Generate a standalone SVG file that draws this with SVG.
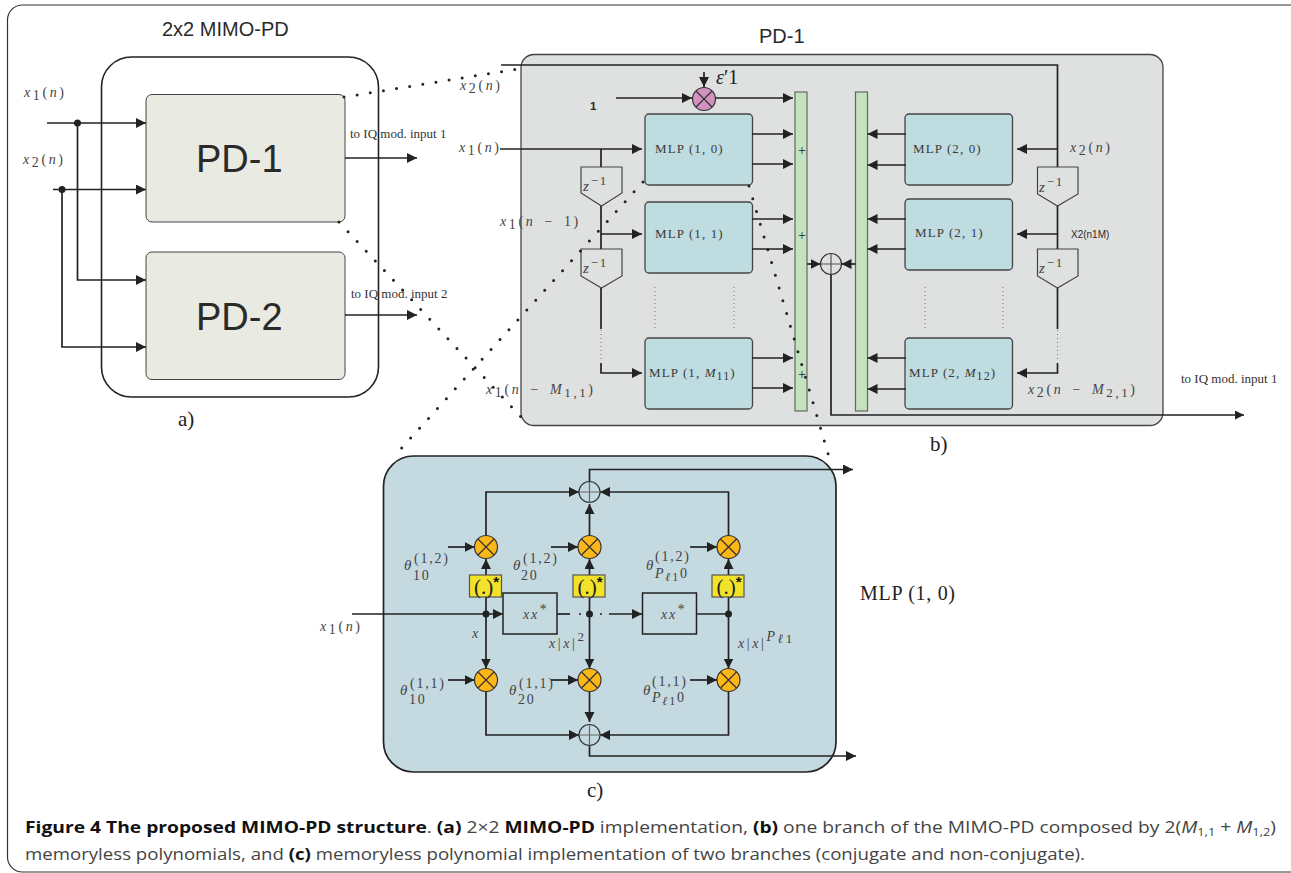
<svg xmlns="http://www.w3.org/2000/svg" width="1291" height="873" viewBox="0 0 1291 873">
<style>
text{fill:#222;font-family:"Liberation Serif",serif}
.s{font-family:"Liberation Sans",sans-serif;fill:#2a2a2a}
.m{fill:#444;font-size:14px;letter-spacing:2.600px;word-spacing:3px}
.th{letter-spacing:1.800px}
.i{font-style:italic}
.lb{fill:#3a3a3a;font-size:13px;letter-spacing:1.100px}
.t{font-size:13px;fill:#333}
.cap{font-family:"Open Sans",sans-serif;font-size:16.500px;fill:#444}
.b{font-weight:700;fill:#111}
.pd{fill:#e9eae2;stroke:#444;stroke-width:1}
.mlp{fill:#bfdce1;stroke:#444;stroke-width:1.300}
.bar{fill:#c3e2bd;stroke:#666;stroke-width:1.200}
.z{fill:#dfe0e0;stroke:#444;stroke-width:1.200}
.o{fill:#fbb718;stroke:#333;stroke-width:1.200}
.y{fill:#f2e32a;stroke:#555;stroke-width:1.200}
.x{stroke:#333;stroke-width:1.200;fill:none}
.c{fill:none;stroke:#222;stroke-width:1.700}
.a{marker-end:url(#h)}
.as{marker-end:url(#k)}
.dot{fill:#222}
.d{fill:none;stroke:#222;stroke-width:3;stroke-linecap:round;stroke-dasharray:0 13.300}
.v{fill:none;stroke:#777;stroke-width:1;stroke-dasharray:1 3}
</style>
<defs>
<marker id="h" markerUnits="userSpaceOnUse" markerWidth="11" markerHeight="12" refX="10" refY="5" orient="auto"><path d="M0 0L10 5L0 10Z" fill="#222"/></marker>
<marker id="k" markerUnits="userSpaceOnUse" markerWidth="11" markerHeight="12" refX="9" refY="4.500" orient="auto"><path d="M0 0L9 4.500L0 9Z" fill="#222"/></marker>
<g id="cross"><path d="M-8 -8L8 8M-8 8L8 -8" class="x"/></g>
</defs>
<rect id="frame" x="7.500" y="5" width="1300" height="867" rx="15" fill="#fff" stroke="#333" stroke-width="1.200"/>

<g id="panel-a">
<rect x="101.500" y="57" width="277" height="340" rx="30" fill="#fff" stroke="#222" stroke-width="1.600"/>
<text class="s" x="162" y="36" font-size="20">2x2 MIMO-PD</text>
<text x="178" y="426" font-size="21">a)</text>
</g>
<g id="pd1"><rect class="pd" x="146" y="94.500" width="199" height="127.500" rx="6"/><text class="s" x="196" y="172" font-size="38">PD-1</text></g>
<g id="pd2"><rect class="pd" x="146" y="252" width="199" height="127.500" rx="6"/><text class="s" x="196" y="330" font-size="38">PD-2</text></g>

<g id="panel-b">
<rect x="521" y="54.500" width="642" height="371" rx="13" fill="#dfe0e0" stroke="#444" stroke-width="1.300"/>
<text class="s" x="759" y="43" font-size="20">PD-1</text>
<text x="930" y="451" font-size="21">b)</text>
</g>
<g id="bar1"><rect class="bar" x="795" y="92" width="12" height="319"/><text x="798" y="155" font-size="14">+</text><text x="798" y="240" font-size="14">+</text><text x="798" y="379" font-size="14">+</text></g>
<g id="bar2"><rect class="bar" x="855.500" y="92" width="12" height="319"/></g>
<g id="mul-eps"><circle cx="704" cy="99" r="11.500" fill="#d391bf" stroke="#333" stroke-width="1.200"/><use href="#cross" x="704" y="99"/></g>
<g id="sum-b"><circle cx="831" cy="264" r="10.500" fill="none" stroke="#333" stroke-width="1.200"/><path d="M820.500 264H841.500M831 253.500V274.500" stroke="#555" stroke-width="1.200"/></g>

<g id="mlp10"><rect class="mlp" x="645" y="114" width="107.500" height="71" rx="4"/><text class="lb" x="655" y="153">MLP (1, 0)</text></g>
<g id="mlp11"><rect class="mlp" x="645" y="202" width="107.500" height="71" rx="4"/><text class="lb" x="655" y="238">MLP (1, 1)</text></g>
<g id="mlp1m"><rect class="mlp" x="645" y="338" width="107.500" height="71" rx="4"/><text class="lb" x="649" y="377">MLP (1, <tspan class="i">M</tspan><tspan font-size="12" dy="3">11</tspan><tspan dy="-3">)</tspan></text></g>
<g id="mlp20"><rect class="mlp" x="905" y="114" width="107.500" height="71" rx="4"/><text class="lb" x="913" y="153">MLP (2, 0)</text></g>
<g id="mlp21"><rect class="mlp" x="905" y="199" width="107.500" height="71" rx="4"/><text class="lb" x="915" y="237">MLP (2, 1)</text></g>
<g id="mlp2m"><rect class="mlp" x="905" y="338" width="107.500" height="71" rx="4"/><text class="lb" x="909" y="377">MLP (2, <tspan class="i">M</tspan><tspan font-size="12" dy="3">12</tspan><tspan dy="-3">)</tspan></text></g>

<g id="z1"><path class="z" d="M581 167H622V193L601.500 206L581 193Z"/><text class="m th" x="583" y="191"><tspan class="i" font-size="15">z</tspan><tspan font-size="13" dy="-6">−1</tspan></text></g>
<g id="z2"><path class="z" d="M581 249H622V276L601.500 288L581 276Z"/><text class="m th" x="583" y="273"><tspan class="i" font-size="15">z</tspan><tspan font-size="13" dy="-6">−1</tspan></text></g>
<g id="z3"><path class="z" d="M1037.500 167H1078V194L1057.500 206L1037.500 194Z"/><text class="m th" x="1039" y="192"><tspan class="i" font-size="15">z</tspan><tspan font-size="13" dy="-6">−1</tspan></text></g>
<g id="z4"><path class="z" d="M1037.500 249H1078V276L1057.500 288L1037.500 276Z"/><text class="m th" x="1039" y="273"><tspan class="i" font-size="15">z</tspan><tspan font-size="13" dy="-6">−1</tspan></text></g>

<g id="panel-c">
<rect x="383.500" y="456" width="452.500" height="316" rx="30" fill="#c5d9e0" stroke="#222" stroke-width="1.700"/>
<text x="587" y="797" font-size="21">c)</text>
<text x="860" y="600" font-size="20" letter-spacing=".7" fill="#333">MLP (1, 0)</text>
</g>

<g id="connectors">
<path class="c a" d="M47 123H146"/><path class="c a" d="M77.500 123V280H146"/>
<path class="c a" d="M53 189.500H146"/><path class="c a" d="M62 189.500V347H146"/>
<path class="c a" d="M345 158H417"/><path class="c a" d="M345 315H417"/>
<path class="c a" d="M616 98H692"/><path class="c a" d="M716 98H793"/><path class="c a" d="M704 72V87"/>
<path class="c a" d="M500 149H642"/><path class="c" d="M601 149V167M601 206V249M601 288V329"/><path class="c a" d="M601 234H642"/><path class="c a" d="M601 363V373H642"/><path class="v" d="M601 330V362"/>
<path class="c a" d="M752 134H793"/><path class="c a" d="M752 164H793"/><path class="c a" d="M752 219H793"/><path class="c a" d="M752 249H793"/><path class="c a" d="M752 358H793"/><path class="c a" d="M752 388H793"/>
<path class="c a" d="M906 134H867.500"/><path class="c a" d="M906 165H867.500"/><path class="c a" d="M906 219H867.500"/><path class="c a" d="M906 249H867.500"/><path class="c a" d="M906 358H867.500"/><path class="c a" d="M906 389H867.500"/>
<path class="c" d="M501 65H1057.500V167M1057.500 206V249M1057.500 288V329"/>
<path class="c a" d="M1057.500 149H1017"/><path class="c a" d="M1057.500 234H1017"/><path class="c a" d="M1057.500 363V373H1017"/><path class="v" d="M1057.500 330V362"/>
<path class="v" d="M655 287V328M734 287V328M925 287V328M1003 287V328"/>
<path class="c a" d="M807 264H820.500"/><path class="c a" d="M855.500 264H841.500"/>
<path class="c as" d="M831 274.500V415H1244"/>

<path class="c a" d="M352 614H503"/><path class="c" d="M557 614H570"/><path class="c a" d="M609 614H642"/><path class="c" d="M696.500 614H728.500"/>
<path class="c a" d="M486 575V559"/><path class="c a" d="M589.500 575V559"/><path class="c a" d="M728.500 575V559"/>
<path class="c" d="M486 614V597M589.500 614V597M728.500 614V597"/>
<path class="c a" d="M486 614V668.500"/><path class="c a" d="M589.500 614V668.500"/><path class="c a" d="M728.500 614V668.500"/>
<path class="c a" d="M448 547H474.500"/><path class="c a" d="M551 547H578"/><path class="c a" d="M690 547H717"/>
<path class="c a" d="M448 680H474.500"/><path class="c a" d="M551 680H578"/><path class="c a" d="M690 680H717"/>
<path class="c a" d="M486 535.500V492H579"/><path class="c a" d="M589.500 535.500V504"/><path class="c a" d="M728.500 535.500V492H600"/>
<path class="c a" d="M486 691.500V735H579"/><path class="c a" d="M589.500 691.500V722"/><path class="c a" d="M728.500 691.500V735H600"/>
<path class="c a" d="M589.500 482V469.500H853"/><path class="c a" d="M589.500 745V756H856"/>
<circle class="dot" cx="77.500" cy="123" r="3.500"/><circle class="dot" cx="62" cy="189.500" r="3.500"/>
<circle class="dot" cx="486" cy="614" r="3.500"/><circle class="dot" cx="589.500" cy="614" r="3.500"/><circle class="dot" cx="728.500" cy="614" r="3.500"/>
<circle class="dot" cx="580" cy="614" r="1"/><circle class="dot" cx="601" cy="614" r="1"/>
</g>

<g id="m1"><circle class="o" cx="486" cy="547" r="11.500"/><use href="#cross" x="486" y="547"/></g>
<g id="m2"><circle class="o" cx="589.500" cy="547" r="11.500"/><use href="#cross" x="589.500" y="547"/></g>
<g id="m3"><circle class="o" cx="728.500" cy="547" r="11.500"/><use href="#cross" x="728.500" y="547"/></g>
<g id="m4"><circle class="o" cx="486" cy="680" r="11.500"/><use href="#cross" x="486" y="680"/></g>
<g id="m5"><circle class="o" cx="589.500" cy="680" r="11.500"/><use href="#cross" x="589.500" y="680"/></g>
<g id="m6"><circle class="o" cx="728.500" cy="680" r="11.500"/><use href="#cross" x="728.500" y="680"/></g>
<g id="s1"><circle cx="589.500" cy="492" r="10.500" fill="none" stroke="#333" stroke-width="1.200"/><path d="M579 492H600M589.500 481.500V502.500" stroke="#666" stroke-width="1.200"/></g>
<g id="s2"><circle cx="589.500" cy="735" r="10.500" fill="none" stroke="#333" stroke-width="1.200"/><path d="M579 735H600M589.500 724.500V745.500" stroke="#666" stroke-width="1.200"/></g>
<g id="c1"><rect class="y" x="469.500" y="575" width="32" height="22"/><text x="474" y="594" font-size="21">(.)<tspan class="s b" font-size="15" dy="-7">*</tspan></text></g>
<g id="c2"><rect class="y" x="573" y="575" width="32" height="22"/><text x="577.500" y="594" font-size="21">(.)<tspan class="s b" font-size="15" dy="-7">*</tspan></text></g>
<g id="c3"><rect class="y" x="712" y="575" width="32" height="22"/><text x="716.500" y="594" font-size="21">(.)<tspan class="s b" font-size="15" dy="-7">*</tspan></text></g>
<g id="b1"><rect x="503" y="593" width="54" height="41" fill="#c5d9e0" stroke="#222" stroke-width="1.500"/><text class="m th i" x="523" y="619">xx<tspan dy="-5">*</tspan></text></g>
<g id="b2"><rect x="642.500" y="593" width="54" height="41" fill="#c5d9e0" stroke="#222" stroke-width="1.500"/><text class="m th i" x="661" y="619">xx<tspan dy="-5">*</tspan></text></g>

<g id="labels">
<text class="m" x="24" y="97"><tspan class="i">x</tspan><tspan font-size="14" dy="3">1</tspan><tspan dy="-3">(</tspan><tspan class="i">n</tspan>)</text>
<text class="m" x="23" y="164"><tspan class="i">x</tspan><tspan font-size="14" dy="3">2</tspan><tspan dy="-3">(</tspan><tspan class="i">n</tspan>)</text>
<text class="t" x="350" y="138">to IQ mod. input 1</text>
<text class="t" x="351" y="298">to IQ mod. input 2</text>
<text class="m" x="460" y="90"><tspan class="i">x</tspan><tspan font-size="14" dy="3">2</tspan><tspan dy="-3">(</tspan><tspan class="i">n</tspan>)</text>
<text class="m" x="459" y="152"><tspan class="i">x</tspan><tspan font-size="14" dy="3">1</tspan><tspan dy="-3">(</tspan><tspan class="i">n</tspan>)</text>
<text class="m" x="500" y="226"><tspan class="i">x</tspan><tspan font-size="14" dy="3">1</tspan><tspan dy="-3">(</tspan><tspan class="i">n</tspan> − 1)</text>
<text class="m" x="486" y="394"><tspan class="i">x</tspan><tspan font-size="14" dy="3">1</tspan><tspan dy="-3">(</tspan><tspan class="i">n</tspan> − <tspan class="i">M</tspan><tspan font-size="13" dy="3">1,1</tspan><tspan dy="-3">)</tspan></text>
<text class="m" x="1070" y="152"><tspan class="i">x</tspan><tspan font-size="14" dy="3">2</tspan><tspan dy="-3">(</tspan><tspan class="i">n</tspan>)</text>
<text class="s" x="1071" y="238" font-size="10">X2(n1M)</text>
<text class="m" x="1028" y="394"><tspan class="i">x</tspan><tspan font-size="14" dy="3">2</tspan><tspan dy="-3">(</tspan><tspan class="i">n</tspan> − <tspan class="i">M</tspan><tspan font-size="13" dy="3">2,1</tspan><tspan dy="-3">)</tspan></text>
<text class="s" x="590" y="110" font-size="11.500" font-weight="700">1</text>
<text x="716" y="84" font-size="20" fill="#333"><tspan class="i">ε</tspan>′1</text>
<text class="t" x="1181" y="383">to IQ mod. input 1</text>
<text class="m" x="320" y="631"><tspan class="i">x</tspan><tspan font-size="14" dy="3">1</tspan><tspan dy="-3">(</tspan><tspan class="i">n</tspan>)</text>
<text class="m i" x="472" y="638">x</text>
<text class="m" x="549" y="648"><tspan class="i">x</tspan>|<tspan class="i">x</tspan>|<tspan font-size="13" dy="-7">2</tspan></text>
<text class="m" x="738" y="648"><tspan class="i">x</tspan>|<tspan class="i">x</tspan>|<tspan class="i" dy="-7">P</tspan><tspan class="i" font-size="13" dy="2">ℓ</tspan><tspan font-size="13">1</tspan></text>

<text class="m th" x="404" y="570"><tspan class="i" font-size="15">θ</tspan><tspan x="414" y="563">(1,2)</tspan><tspan x="413" y="580">10</tspan></text>
<text class="m th" x="513" y="570"><tspan class="i" font-size="15">θ</tspan><tspan x="523" y="563">(1,2)</tspan><tspan x="521" y="580">20</tspan></text>
<text class="m th" x="646" y="570"><tspan class="i" font-size="15">θ</tspan><tspan x="655" y="561">(1,2)</tspan><tspan class="i" x="655" y="578">P</tspan><tspan class="i" font-size="12" y="581">ℓ</tspan><tspan font-size="12" y="581">1</tspan><tspan y="578">0</tspan></text>
<text class="m th" x="400" y="695"><tspan class="i" font-size="15">θ</tspan><tspan x="410" y="688">(1,1)</tspan><tspan x="409" y="704">10</tspan></text>
<text class="m th" x="509" y="695"><tspan class="i" font-size="15">θ</tspan><tspan x="519" y="688">(1,1)</tspan><tspan x="518" y="704">20</tspan></text>
<text class="m th" x="643" y="695"><tspan class="i" font-size="15">θ</tspan><tspan x="652" y="686">(1,1)</tspan><tspan class="i" x="652" y="702">P</tspan><tspan class="i" font-size="12" y="705">ℓ</tspan><tspan font-size="12" y="705">1</tspan><tspan y="702">0</tspan></text>
</g>

<g id="zoom-lines">
<path class="d" d="M344 97L518 69"/>
<path class="d" d="M339 222L522 418"/>
<path class="d" d="M643 182L398 452"/>
<path class="d" d="M749 186L829 457"/>
</g>

<g id="caption">
<text class="cap" x="25" y="833" textLength="1251" lengthAdjust="spacingAndGlyphs"><tspan class="b">Figure 4 The proposed MIMO-PD structure</tspan>. <tspan class="b">(a)</tspan> 2×2 <tspan class="b">MIMO-PD</tspan> implementation, <tspan class="b">(b)</tspan> one branch of the MIMO-PD composed by 2(<tspan class="i">M</tspan><tspan font-size="11" dy="3">1,1</tspan><tspan dy="-3"> + </tspan><tspan class="i">M</tspan><tspan font-size="11" dy="3">1,2</tspan><tspan dy="-3">)</tspan></text>
<text class="cap" x="25" y="860" textLength="1060" lengthAdjust="spacingAndGlyphs">memoryless polynomials, and <tspan class="b">(c)</tspan> memoryless polynomial implementation of two branches (conjugate and non-conjugate).</text>
</g>
</svg>
